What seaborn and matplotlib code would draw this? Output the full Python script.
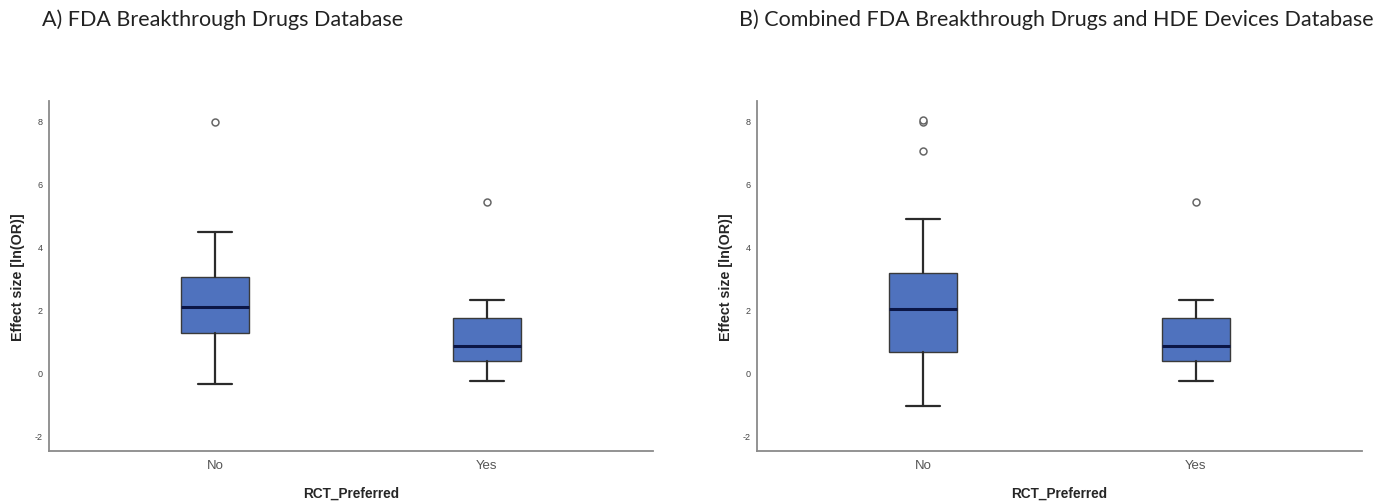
import matplotlib
matplotlib.use("Agg")
import matplotlib.pyplot as plt
import seaborn as sns

# Box summary values (SPSS-style boxplots)
groups = ["No", "Yes"]

# A) FDA Breakthrough Drugs Database
a_whislo = [-0.37, -0.29]
a_q1 = [1.25, 0.37]
a_med = [2.09, 0.85]
a_q3 = [3.02, 1.72]
a_whishi = [4.46, 2.30]
a_fliers = [[7.95], [5.43]]

# B) Combined FDA Breakthrough Drugs and HDE Devices Database
b_whislo = [-1.08, -0.29]
b_q1 = [0.66, 0.37]
b_med = [2.01, 0.85]
b_q3 = [3.16, 1.72]
b_whishi = [4.88, 2.30]
b_fliers = [[7.05, 7.96, 8.02], [5.43]]

titles = ["A) FDA Breakthrough Drugs Database",
          "B) Combined FDA Breakthrough Drugs and HDE Devices Database"]

sns.set_style("white")
plt.rcParams['font.family'] = ['Liberation Sans', 'DejaVu Sans']

fig = plt.figure(figsize=(13.91, 5.02), dpi=100)
ax_a = fig.add_axes([0.0352, 0.0996, 0.4342, 0.6975])
ax_b = fig.add_axes([0.5442, 0.0996, 0.4350, 0.6975])

box_color = "#4F72BE"

panels = [
    (ax_a, a_whislo, a_q1, a_med, a_q3, a_whishi, a_fliers),
    (ax_b, b_whislo, b_q1, b_med, b_q3, b_whishi, b_fliers),
]

for ax, lo, q1, med, q3, hi, fl in panels:
    stats = []
    for i, g in enumerate(groups):
        stats.append(dict(label=g, whislo=lo[i], q1=q1[i], med=med[i],
                          q3=q3[i], whishi=hi[i], fliers=fl[i]))
    ax.bxp(stats, positions=[0, 1], widths=0.25, patch_artist=True,
           boxprops=dict(facecolor=box_color, edgecolor="#3a3a3a", linewidth=1.0),
           medianprops=dict(color="#0b1646", linewidth=2.2),
           whiskerprops=dict(color="#2b2b2b", linewidth=1.6),
           capprops=dict(color="#2b2b2b", linewidth=1.6),
           capwidths=0.125,
           flierprops=dict(marker="o", markersize=5, markerfacecolor="white",
                           markeredgecolor="#666666", markeredgewidth=1.1))
    ax.set_xlim(-0.61, 1.61)
    ax.set_ylim(-2.5, 8.63)
    ax.set_yticks([-2, 0, 2, 4, 6, 8])
    ax.set_yticklabels(["-2", "0", "2", "4", "6", "8"])
    ax.tick_params(axis="y", length=0, labelsize=6.5, labelcolor="#444444", pad=4.5)
    ax.tick_params(axis="x", length=0, labelsize=9.5, labelcolor="#555555", pad=6)
    sns.despine(ax=ax)
    for s in ["left", "bottom"]:
        ax.spines[s].set_color("#8a8a8a")
        ax.spines[s].set_linewidth(1.3)
    ax.set_ylabel("Effect size [ln(OR)]", fontsize=10.3, fontweight="bold", labelpad=7)
    ax.set_xlabel("RCT_Preferred", fontsize=9.8, fontweight="bold", labelpad=10)

fig.text(42 / 1391, 1 - 20 / 502, titles[0], fontsize=15.5, family=["Lato", "DejaVu Sans"],
         color="#222222", ha="left", va="center")
fig.text(1374 / 1391, 1 - 20 / 502, titles[1], fontsize=15.5, family=["Lato", "DejaVu Sans"],
         color="#222222", ha="right", va="center")

fig.savefig("out.png", dpi=100)
